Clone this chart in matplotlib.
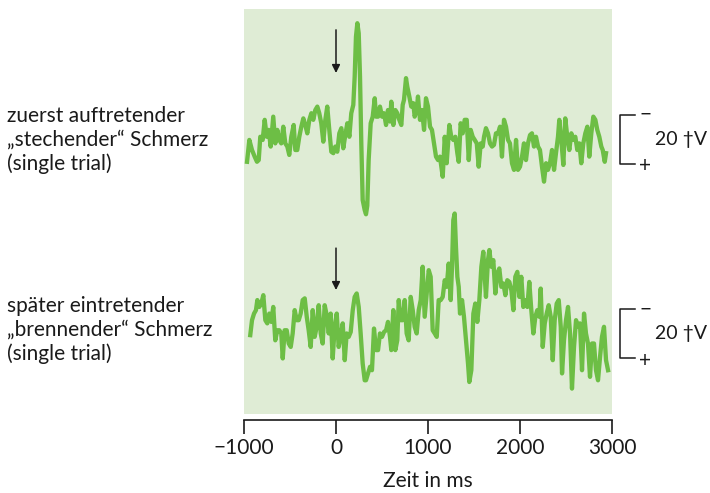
import numpy as np
import matplotlib.pyplot as plt

# single-trial traces, time in ms, voltage in microvolts (negative = up)
t_top = [-967, -942, -913, -884, -859, -840, -823, -797, -775, -753,
         -732, -710, -682, -660, -638, -616, -595, -573, -551, -529,
         -508, -486, -460, -442, -421, -399, -377, -355, -334, -312,
         -290, -268, -247, -225, -203, -182, -160, -138, -116, -95,
         -73, -51, -29, -8, 14, 36, 58, 79, 101, 123,
         145, 166, 188, 203, 217, 232, 247, 261, 275, 290,
         312, 326, 340, 355, 377, 399, 421, 435, 457, 478,
         500, 522, 544, 565, 587, 601, 623, 645, 666, 688,
         710, 725, 739, 761, 775, 797, 818, 840, 855, 877,
         891, 913, 935, 957, 978, 1000, 1022, 1043, 1065, 1087,
         1109, 1130, 1145, 1160, 1182, 1203, 1232, 1253, 1275, 1297,
         1319, 1334, 1355, 1377, 1399, 1421, 1443, 1464, 1486, 1508,
         1530, 1551, 1573, 1595, 1609, 1630, 1652, 1674, 1696, 1717,
         1739, 1761, 1783, 1804, 1826, 1848, 1870, 1891, 1913, 1935,
         1957, 1978, 2000, 2022, 2043, 2065, 2087, 2109, 2130, 2152,
         2174, 2196, 2217, 2239, 2261, 2283, 2304, 2326, 2348, 2370,
         2391, 2413, 2427, 2449, 2471, 2492, 2514, 2536, 2558, 2580,
         2601, 2623, 2645, 2666, 2688, 2710, 2732, 2753, 2775, 2797,
         2819, 2840, 2862, 2884, 2899, 2921, 2935]
v_top = [9.1, 0.2, 4.3, 7.0, 9.1, 8.4, -1.1, 0.2, -8.0, -1.1,
         -3.9, 2.9, -9.3, 1.6, -3.9, 0.2, 1.6, -5.2, 1.6, 2.9,
         6.3, -1.1, -5.9, 4.3, 4.3, -1.1, -5.2, -8.6, -5.9, -2.5,
         -8.0, -10.7, -8.0, -12.0, -13.4, -10.7, -6.6, 0.9, -8.0, -13.4,
         -3.9, 5.0, 5.6, 2.9, 5.0, -2.5, -4.6, 3.6, -1.8, -6.6,
         -1.1, -10.7, -14.1, -25.6, -41.9, -47.4, -43.3, -25.6, 1.6, 24.7,
         28.8, 30.5, 27.0, 8.4, -6.6, -9.3, -16.8, -9.3, -9.3, -13.4,
         -9.3, -10.7, -5.9, -12.0, -7.3, -15.4, -5.9, -12.0, -10.7, -8.0,
         -5.9, -14.1, -16.1, -25.0, -21.5, -17.5, -13.4, -14.8, -9.3, -12.0,
         -17.5, -8.0, -12.0, -3.9, -16.8, -13.4, -5.2, -3.9, 1.6, 7.0,
         8.4, 7.0, 11.1, 15.2, -1.1, 9.7, -5.9, -1.1, 0.2, -1.1,
         5.6, 9.1, -6.6, -2.5, -8.0, -8.0, 8.4, -3.9, -1.1, 0.2,
         1.6, 11.1, 1.6, 2.9, -1.1, -4.6, -2.5, 1.6, 2.9, 2.2,
         -2.5, -2.5, -5.2, 7.0, -8.0, -5.2, 0.2, 1.6, 9.7, 12.4,
         0.2, 12.4, 11.1, 7.0, 1.6, 8.4, 1.6, -1.8, -2.5, 2.9,
         -1.1, 2.9, 4.3, 11.1, 17.2, 9.7, 12.4, 9.7, 4.3, 12.4,
         5.6, -1.1, -8.0, 0.2, 10.4, -8.6, -1.1, 4.3, -2.5, 0.2,
         -1.1, 4.3, 1.6, 9.7, 1.6, -2.5, -5.2, 7.0, -2.5, -9.3,
         -8.0, -3.9, -1.1, 2.9, 4.3, 9.1, 5.6]

t_bot = [-932, -913, -891, -870, -855, -834, -812, -790, -768, -747,
         -725, -703, -682, -660, -638, -616, -595, -579, -558, -536,
         -514, -492, -471, -449, -427, -405, -384, -362, -340, -318,
         -297, -275, -253, -232, -210, -188, -166, -145, -123, -101,
         -79, -58, -36, -14, 8, 29, 51, 73, 95, 116,
         138, 160, 182, 203, 225, 247, 268, 290, 312, 326,
         348, 370, 391, 413, 435, 457, 478, 500, 522, 544,
         565, 587, 601, 623, 645, 666, 682, 703, 725, 747,
         768, 790, 812, 834, 855, 877, 899, 921, 942, 964,
         986, 1008, 1029, 1051, 1073, 1095, 1116, 1138, 1160, 1182,
         1203, 1225, 1247, 1261, 1275, 1290, 1304, 1319, 1334, 1348,
         1370, 1391, 1413, 1435, 1449, 1471, 1493, 1514, 1536, 1558,
         1580, 1601, 1630, 1652, 1667, 1688, 1710, 1732, 1754, 1775,
         1797, 1819, 1841, 1862, 1884, 1906, 1928, 1949, 1971, 1993,
         2014, 2036, 2058, 2080, 2101, 2123, 2145, 2167, 2188, 2210,
         2225, 2247, 2269, 2290, 2312, 2334, 2356, 2377, 2399, 2421,
         2443, 2457, 2478, 2500, 2522, 2544, 2565, 2587, 2609, 2630,
         2652, 2674, 2696, 2717, 2739, 2761, 2783, 2804, 2826, 2848,
         2870, 2891, 2913, 2935, 2957]
v_bot = [0.6, -5.5, -8.2, -9.6, -13.7, -10.9, -12.3, -15.7, -5.5, -4.2,
         -8.2, -4.8, -10.9, 2.7, -1.4, -1.4, -0.1, 10.1, -1.4, -1.4,
         4.0, 5.4, -0.1, -9.6, -5.5, -5.5, -8.2, -13.7, -14.4, -6.9,
         -1.4, 5.4, -9.6, 1.3, -2.8, -11.6, -0.1, 4.0, -11.6, -7.5,
         -0.1, -8.2, 10.1, -2.8, -8.2, 5.4, 1.3, -4.2, 10.8, -0.1,
         1.3, -0.7, -9.6, -15.0, -16.4, -10.9, -0.1, 12.2, 19.0, 19.0,
         16.2, 13.5, 14.9, -2.1, 6.7, 6.7, -0.1, 1.3, -0.7, -1.4,
         -4.8, 1.3, 6.7, -9.6, 6.7, 2.7, -13.7, -5.5, -5.5, -13.7,
         -0.1, 2.7, -15.0, -9.6, -2.8, -0.1, -9.6, -13.7, -27.3, -6.9,
         -16.4, -25.9, -23.2, -1.4, -0.1, 1.3, -13.7, -13.7, -15.0, -21.8,
         -19.1, -28.6, -13.7, -27.3, -46.3, -49.0, -35.4, -23.2, -19.1, -8.2,
         -13.7, -6.9, 2.7, 12.2, 19.7, 14.9, -8.2, -12.3, -4.8, -13.7,
         -27.3, -33.4, -15.0, -30.0, -34.1, -27.3, -30.0, -16.4, -24.6, -26.6,
         -19.1, -20.5, -15.7, -21.8, -21.1, -17.7, -9.6, -23.2, -25.2, -15.0,
         -23.2, -10.9, -13.7, -10.9, -21.1, -9.6, -0.1, -6.9, -9.6, -6.9,
         -18.4, 5.4, -4.2, -8.2, -11.6, -6.9, 10.8, -5.5, -12.3, -13.7,
         -2.8, 16.2, 2.7, -5.5, -10.9, -0.1, 22.4, 5.4, -5.5, -2.8,
         -4.2, 14.9, -8.2, -0.1, 4.0, 17.6, 4.0, 4.0, 14.9, 19.0,
         9.5, 1.3, -2.8, 10.8, 14.9]

xticks = [-1000, 0, 1000, 2000, 3000]
stimulus_ms = 0
scale_uv = 20
label_top = "zuerst auftretender\n\u201estechender\u201c Schmerz\n(single trial)"
label_bot = "sp\u00e4ter eintretender\n\u201ebrennender\u201c Schmerz\n(single trial)"
scale_text = "20 \u2020V"

plt.rcParams['font.family'] = ['Lato', 'DejaVu Sans']
W, H = 710, 493
fig = plt.figure(figsize=(W / 100, H / 100), dpi=100)
ax = fig.add_axes([244 / W, (H - 420) / H, 368 / W, 411 / H])
ax.set_facecolor('none')

green = '#6dbe45'
bg = '#dfecd5'
ink = '#1a1a1a'
offset_bot = 79.2  # vertical stacking of second trace

ax.axhspan(-60, 112, color=bg, lw=0, zorder=0)
ax.plot(t_top, v_top, color=green, lw=3.1, solid_joinstyle='round', zorder=2)
ax.plot(t_bot, np.array(v_bot) + offset_bot, color=green, lw=3.1,
        solid_joinstyle='round', zorder=2)

ax.set_xlim(-1000, 3000)
ax.set_ylim(114.4, -53.2)

# stimulus arrows
for y0, y1 in [(-44.7, -27.1), (44.3, 61.4)]:
    ax.annotate('', xy=(stimulus_ms, y1), xytext=(stimulus_ms, y0),
                arrowprops=dict(arrowstyle='-|>', color=ink, lw=1.1,
                                mutation_scale=12, shrinkA=0, shrinkB=0))

# scale bars
for base in [0, offset_bot]:
    y_hi, y_lo = base - scale_uv / 2, base + scale_uv / 2
    ax.plot([3250, 3084, 3084, 3250], [y_hi, y_hi, y_lo, y_lo],
            color=ink, lw=1.1, clip_on=False)
    ax.text(3360, y_hi, '\u2212', ha='center', va='center', fontsize=15,
            color=ink, clip_on=False)
    ax.text(3360, y_lo + 1.0, '+', ha='center', va='center', fontsize=15,
            color=ink, clip_on=False)
    ax.text(3470, base, scale_text, ha='left', va='center', fontsize=14,
            color=ink, clip_on=False)

ax.spines[['top', 'right', 'left']].set_visible(False)
ax.spines['bottom'].set_linewidth(1.2)
ax.spines['bottom'].set_color(ink)
ax.set_yticks([])
ax.set_xticks(xticks)
ax.tick_params(axis='x', length=10, width=1.2, color=ink, pad=3,
               labelsize=15, labelcolor=ink)
ax.set_xlabel('Zeit in ms', fontsize=15, labelpad=9, color=ink)

fig.text(7 / W, 1 - 140 / H, label_top, ha='left', va='center',
         fontsize=15, linespacing=1.25, color=ink)
fig.text(7 / W, 1 - 330 / H, label_bot, ha='left', va='center',
         fontsize=15, linespacing=1.25, color=ink)

fig.savefig('out.png', dpi=100)
